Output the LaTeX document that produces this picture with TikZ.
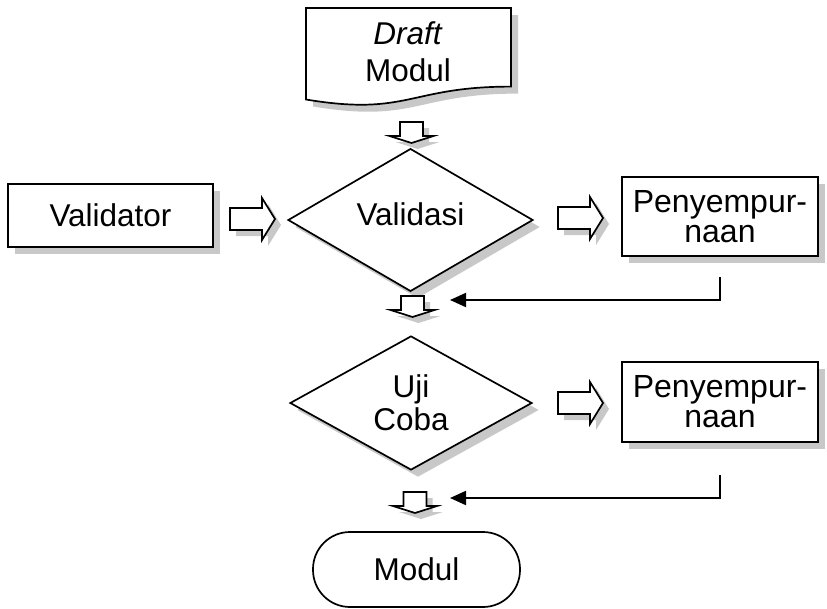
\documentclass[tikz,border=0pt]{standalone}
\usepackage{fontspec}
\setmainfont{Liberation Sans}
\usetikzlibrary{shapes.geometric,shadows,arrows.meta}
\definecolor{shadowgray}{RGB}{200,200,200}
\tikzset{
  shp/.style={draw, line width=1.7pt, fill=white},
  shad/.style={general shadow={shadow xshift=7pt, shadow yshift=-7pt, fill=shadowgray}},
  lbl/.style={font=\fontsize{31.5}{31.5}\selectfont},
  conn/.style={line width=2pt, -{Triangle[length=16pt,width=14pt]}},
  pics/rblock/.style={code={
    \fill[shadowgray, shift={(6,6)}] (0,-11) -- (32,-11) -- (32,-21) -- (45,0) -- (32,21) -- (32,11) -- (0,11) -- cycle;
    \draw[shp] (0,-11) -- (32,-11) -- (32,-21) -- (45,0) -- (32,21) -- (32,11) -- (0,11) -- cycle;
  }},
  pics/dblock/.style={code={
    \fill[shadowgray, shift={(6,6)}] (-11.5,0) -- (11.5,0) -- (11.5,14) -- (22,14) -- (0,21) -- (-22,14) -- (-11.5,14) -- cycle;
    \draw[shp] (-11.5,0) -- (11.5,0) -- (11.5,14) -- (22,14) -- (0,21) -- (-22,14) -- (-11.5,14) -- cycle;
  }}
}
\begin{document}
\begin{tikzpicture}[x=1pt, y=-1pt]
\useasboundingbox (0,0) rectangle (827,608);
% document shape
\fill[shadowgray, shift={(7,7)}] (306,8) -- (511,8) -- (511,86.6) .. controls (408.5,86.6) and (408.5,116.5) .. (306,99.5) -- cycle;
\draw[shp] (306,8) -- (511,8) -- (511,86.6) .. controls (408.5,86.6) and (408.5,116.5) .. (306,99.5) -- cycle;
\node[align=center, font=\fontsize{31.5}{37}\selectfont] (draft) at (408,52) {\textit{Draft}\\Modul};

\pic (da1) at (411.5,122) {dblock};

\node[shp, shad, minimum width=205pt, minimum height=63pt, lbl] (validator) at (110.5,215.5) {Validator};
\pic (ra1) at (230,219) {rblock};
\node[shp, shad, diamond, minimum width=245pt, minimum height=124pt, inner sep=0pt, lbl, text depth=12pt] (validasi) at (410.5,220) {Validasi};
\pic (ra2) at (558,218) {rblock};
\node[shp, shad, minimum width=196pt, minimum height=79pt, align=center, font=\fontsize{32}{29.5}\selectfont] (peny1) at (720,216.5) {Penyempur-\\naan};

\coordinate (j1s) at (720,277);
\coordinate (j1e) at (450,300);
\draw[conn] (j1s) |- (j1e);
\pic (da2) at (412.5,296) {dblock};

\node[shp, shad, diamond, minimum width=242pt, minimum height=134pt, inner sep=0pt, align=center, font=\fontsize{31.5}{33}\selectfont] (uji) at (411,403) {Uji\\Coba};
\pic (ra3) at (558,403) {rblock};
\node[shp, shad, minimum width=196pt, minimum height=80pt, align=center, font=\fontsize{32}{30}\selectfont] (peny2) at (720,402) {Penyempur-\\naan};

\coordinate (j2s) at (720,475);
\coordinate (j2e) at (450,498);
\draw[conn] (j2s) |- (j2e);
\pic (da3) at (415,492) {dblock};

\node[shp, rounded corners=37pt, minimum width=207pt, minimum height=75pt, lbl] (modul) at (416.5,569.5) {Modul};
\end{tikzpicture}
\end{document}
